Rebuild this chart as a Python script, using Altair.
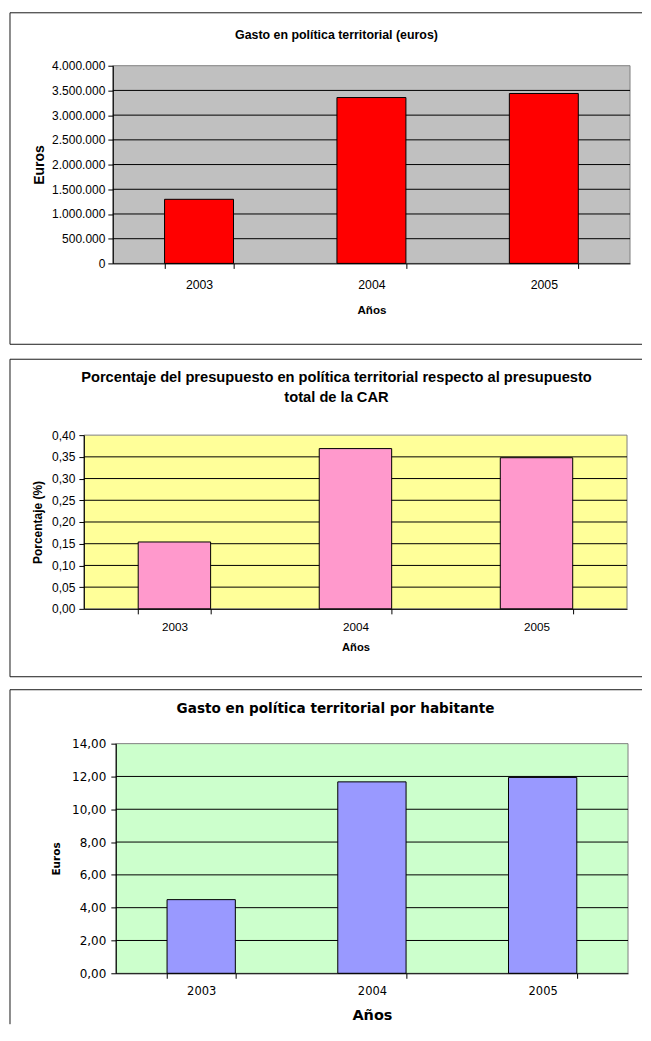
import altair as alt
import pandas as pd

# ---------------- data ----------------
years = ["2003", "2004", "2005"]
gasto_euros = [1297000, 3356000, 3438000]
porcentaje = [0.154, 0.369, 0.348]
gasto_habitante = [4.49, 11.67, 11.94]

ticks_euros = [0, 500000, 1000000, 1500000, 2000000, 2500000, 3000000, 3500000, 4000000]
ticks_pct = [0.0, 0.05, 0.10, 0.15, 0.20, 0.25, 0.30, 0.35, 0.40]
ticks_hab = [0, 2, 4, 6, 8, 10, 12, 14]

title_1 = ["Gasto en política territorial (euros)"]
title_2 = ["Porcentaje del presupuesto en política territorial respecto al presupuesto",
           "total de la CAR"]
title_3 = ["Gasto en política territorial por habitante"]

X0 = 8      # page x of every panel's group origin
W = 634     # group width (frame runs to the right edge of the page body)
ONE = pd.DataFrame({"k": [0]})

LS = "Liberation Sans"
DJ = "DejaVu Sans"


def panel(values, ticks, label_expr, bar_color, bg_color, titles, g, f):
    pl, pr, pt, pb = g["pl"], g["pr"], g["pt"], g["pb"]
    h = pb - pt
    gx = lambda px: px - X0
    gy = lambda py: py - pt

    df = pd.DataFrame({"Año": years, "valor": values})
    grid_df = pd.DataFrame({"valor": ticks[1:-1]})

    yscale = alt.Scale(domain=[ticks[0], ticks[-1]], nice=False, zero=True)
    yaxis = alt.Axis(
        values=ticks, labelExpr=label_expr, offset=-(pl - X0), grid=False,
        domainColor="black", tickColor="black", tickSize=5, zindex=1,
        labelFont=f["yl_font"], labelFontSize=f["yl_size"], labelColor="black",
        labelPadding=f["yl_pad"], labelOverlap=False,
        titleFont=f["yt_font"], titleFontSize=f["yt_size"], titleFontWeight="bold",
        titleColor="black", titleAngle=270, titleAlign="center", titleBaseline="middle",
        titleX=f["yt_x"] - pl, titleY=h / 2,
    )
    xaxis = alt.Axis(
        labelAngle=0, tickBand="extent", grid=False, zindex=1,
        domainColor="black", tickColor="black", tickSize=5,
        labelFont=f["xl_font"], labelFontSize=f["xl_size"], labelColor="black",
        labelBaseline="middle", labelPadding=f["xl_y"] - pb - 5,
        titleFont=f["xt_font"], titleFontSize=f["xt_size"], titleFontWeight="bold",
        titleColor="black", titleAlign="center", titleBaseline="middle",
        titleX=gx((pl + pr) / 2), titleY=f["xt_y"] - pb,
    )
    ytitle = f["ytitle"]

    layers = []
    # invisible extent that sets the spacing above the frame
    layers.append(alt.Chart(ONE).mark_rule(opacity=0).encode(
        x=alt.value(gx(g["fl"])), x2=alt.value(gx(g["fl"]) + 2),
        y=alt.value(gy(g["ext"]))))
    # frame
    layers.append(alt.Chart(ONE).mark_rule(color="#1a1a1a", strokeWidth=1).encode(
        x=alt.value(gx(g["fl"])), x2=alt.value(W), y=alt.value(gy(g["ft"]))))
    layers.append(alt.Chart(ONE).mark_rule(color="#1a1a1a", strokeWidth=1).encode(
        x=alt.value(gx(g["fl"])), y=alt.value(gy(g["ft"])), y2=alt.value(gy(g["fb"]))))
    if g.get("bottom", True):
        layers.append(alt.Chart(ONE).mark_rule(color="#1a1a1a", strokeWidth=1).encode(
            x=alt.value(gx(g["fl"])), x2=alt.value(W), y=alt.value(gy(g["fb"]))))
    # plot area background
    layers.append(alt.Chart(ONE).mark_rect(fill=bg_color, stroke="#808080", strokeWidth=1).encode(
        x=alt.value(gx(pl)), x2=alt.value(gx(pr)), y=alt.value(0), y2=alt.value(h)))
    # horizontal gridlines
    layers.append(alt.Chart(grid_df).mark_rule(color="black", strokeWidth=1).encode(
        y=alt.Y("valor:Q", scale=yscale, axis=yaxis, title=ytitle),
        x=alt.value(gx(pl)), x2=alt.value(gx(pr))))
    # bars
    layers.append(alt.Chart(df).mark_bar(fill=bar_color, stroke="black", strokeWidth=1).encode(
        x=alt.X("Año:N", sort=years, title="Años", axis=xaxis,
                scale=alt.Scale(domain=years, range=[gx(pl), gx(pr)],
                                paddingInner=0.6, paddingOuter=0.3)),
        y=alt.Y("valor:Q", scale=yscale, axis=yaxis, title=ytitle)))
    # chart title
    for text, ty in zip(titles, f["title_y"]):
        layers.append(alt.Chart(ONE).mark_text(
            text=text, font=f["title_font"], fontSize=f["title_size"], fontWeight="bold",
            color="black", align="center", baseline="middle").encode(
            x=alt.value(gx(f["title_x"])), y=alt.value(gy(ty))))
    return alt.layer(*layers).properties(width=W, height=h)


p1 = panel(
    gasto_euros, ticks_euros,
    "replace(format(datum.value, ','), regexp(',', 'g'), '.')",
    "#FF0000", "#C0C0C0", title_1,
    dict(pl=112, pr=630, pt=64, pb=262, fl=9, ft=11, fb=343, ext=8),
    dict(yl_font=LS, yl_size=12, yl_pad=3, yt_font=LS, yt_size=14, yt_x=38.5,
         ytitle="Euros",
         xl_font=LS, xl_size=12.3, xl_y=283, xt_font=LS, xt_size=11.6, xt_y=309,
         title_font=LS, title_size=12.4, title_x=336, title_y=[33]),
)

p2 = panel(
    porcentaje, ticks_pct,
    "replace(format(datum.value, '.2f'), '.', ',')",
    "#FF99CC", "#FFFF99", title_2,
    dict(pl=83, pr=627, pt=434, pb=608, fl=9, ft=358, fb=676, ext=345),
    dict(yl_font=LS, yl_size=12, yl_pad=4, yt_font=LS, yt_size=12, yt_x=36.5,
         ytitle="Porcentaje (%)",
         xl_font=LS, xl_size=11.7, xl_y=626, xt_font=LS, xt_size=11.2, xt_y=647,
         title_font=LS, title_size=14.7, title_x=336, title_y=[377, 397]),
)

p3 = panel(
    gasto_habitante, ticks_hab,
    "replace(format(datum.value, '.2f'), '.', ',')",
    "#9999FF", "#CCFFCC", title_3,
    dict(pl=115, pr=628, pt=743, pb=973, fl=9, ft=689, fb=1024, ext=678, bottom=False),
    dict(yl_font=DJ, yl_size=12, yl_pad=5, yt_font=DJ, yt_size=10.5, yt_x=55.5,
         ytitle="Euros",
         xl_font=DJ, xl_size=11.5, xl_y=991, xt_font=DJ, xt_size=14.5, xt_y=1015,
         title_font=DJ, title_size=13.6, title_x=335, title_y=[708]),
)

chart = alt.vconcat(p1, p2, p3, spacing=0).properties(
    padding=0
).configure_view(stroke="transparent")

chart.save("out.html", embed_options={"renderer": "svg", "actions": False})
